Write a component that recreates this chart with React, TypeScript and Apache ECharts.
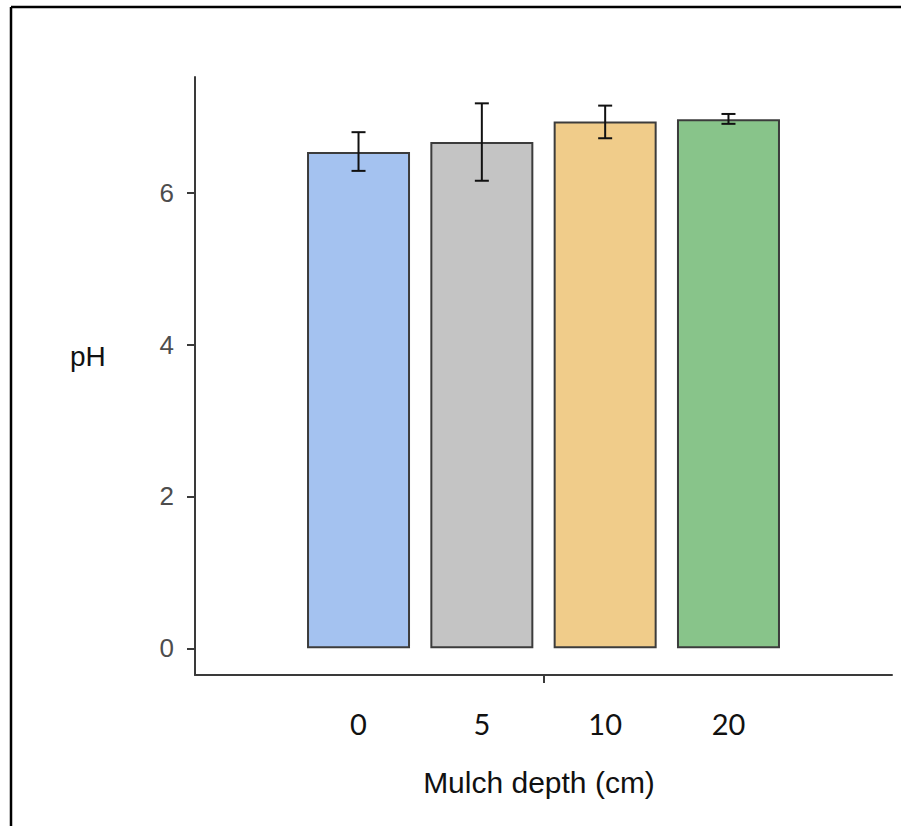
import React, { useEffect, useRef } from "react";
import * as echarts from "echarts";

const categories = ["0", "5", "10", "20"];
const meanPH = [6.54, 6.67, 6.94, 6.97];
const lowerPH = [6.29, 6.16, 6.72, 6.91];
const upperPH = [6.8, 7.18, 7.15, 7.04];
const barColors = ["#a4c2f0", "#c4c4c4", "#f0cc8a", "#88c48a"];
const yTicks = [0, 2, 4, 6];

export default function App() {
  const ref = useRef<HTMLDivElement>(null);
  useEffect(() => {
    if (!ref.current) return;
    const chart = echarts.init(ref.current, undefined, { renderer: "svg" });
    const barData = meanPH.map((v, i) => ({
      value: [i, v],
      itemStyle: { color: barColors[i], borderColor: "#3c3c3c", borderWidth: 2 },
    }));
    const errData = meanPH.map((_, i) => [i, lowerPH[i], upperPH[i]]);
    chart.setOption({
      animation: false,
      backgroundColor: "#ffffff",
      grid: { left: 195, right: 9, top: 77, bottom: 151, containLabel: false },
      xAxis: {
        type: "value",
        min: -1.326,
        max: 4.326,
        splitLine: { show: false },
        axisLine: { show: true, onZero: false, lineStyle: { color: "#3a3a3a", width: 2 } },
        axisTick: { show: true, customValues: [1.5], length: 8, lineStyle: { color: "#3a3a3a", width: 2 } },
        axisLabel: {
          show: true,
          customValues: [0, 1, 2, 3],
          margin: 34,
          fontFamily: "Lato, 'Open Sans', sans-serif",
          fontSize: 29,
          color: "#111111",
          formatter: (v: number) => categories[Math.round(v)] ?? "",
        },
        name: "Mulch depth (cm)",
        nameLocation: "middle",
        nameGap: 92,
        nameTextStyle: {
          fontFamily: "'Liberation Sans', Arial, sans-serif",
          fontSize: 30,
          color: "#111111",
          padding: [0, 9, 0, 0],
        },
      },
      yAxis: {
        type: "value",
        min: -0.352,
        max: 7.527,
        splitLine: { show: false },
        axisLine: { show: true, onZero: false, lineStyle: { color: "#3a3a3a", width: 2 } },
        axisTick: { show: true, customValues: yTicks, length: 8, lineStyle: { color: "#3a3a3a", width: 2 } },
        axisLabel: {
          show: true,
          customValues: yTicks,
          margin: 21,
          fontFamily: "'Liberation Sans', Arial, sans-serif",
          fontSize: 26,
          color: "#4d4d4d",
        },
      },
      graphic: [
        {
          type: "text",
          left: 70,
          top: 342,
          style: {
            text: "pH",
            fontFamily: "'Liberation Sans', Arial, sans-serif",
            fontSize: 28,
            fill: "#111111",
          },
        },
        { type: "line", shape: { x1: 11, y1: 7, x2: 901, y2: 7 }, style: { stroke: "#000", lineWidth: 2.5 } },
        { type: "line", shape: { x1: 11, y1: 7, x2: 11, y2: 826 }, style: { stroke: "#000", lineWidth: 2.5 } },
      ],
      series: [
        {
          type: "bar",
          data: barData,
          barWidth: 103,
          z: 2,
        },
        {
          type: "custom",
          data: errData,
          z: 3,
          renderItem: (params: any, api: any) => {
            const x = api.value(0);
            const lo = api.coord([x, api.value(1)]);
            const hi = api.coord([x, api.value(2)]);
            const hw = 7;
            const style = { stroke: "#111111", lineWidth: 2 };
            return {
              type: "group",
              children: [
                { type: "line", shape: { x1: hi[0], y1: hi[1], x2: lo[0], y2: lo[1] }, style },
                { type: "line", shape: { x1: hi[0] - hw, y1: hi[1], x2: hi[0] + hw, y2: hi[1] }, style },
                { type: "line", shape: { x1: lo[0] - hw, y1: lo[1], x2: lo[0] + hw, y2: lo[1] }, style },
              ],
            };
          },
        },
      ],
    });
    return () => chart.dispose();
  }, []);
  return (
    <div
      ref={ref}
      style={{ position: "fixed", left: 0, top: 0, width: 901, height: 826 }}
    />
  );
}
